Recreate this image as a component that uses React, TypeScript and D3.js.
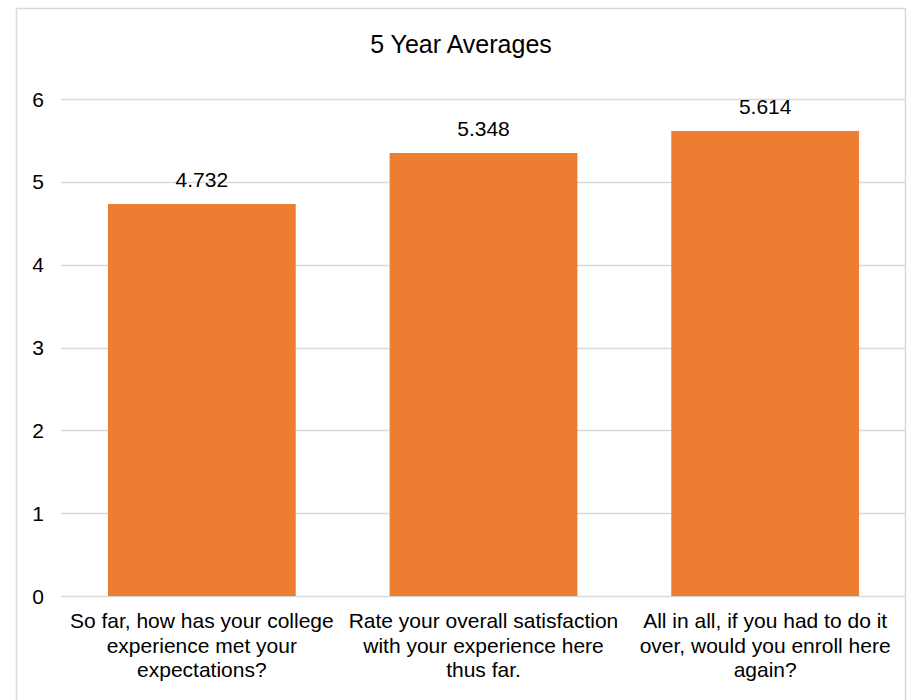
import React from "react";
import * as d3 from "d3";

// Survey question averages over five years
const categories = [
  "So far, how has your college experience met your expectations?",
  "Rate your overall satisfaction with your experience here thus far.",
  "All in all, if you had to do it over, would you enroll here again?",
];
const categoryLines = [
  ["So far, how has your college", "experience met your", "expectations?"],
  ["Rate your overall satisfaction", "with your experience here", "thus far."],
  ["All in all, if you had to do it", "over, would you enroll here", "again?"],
];
const values = [4.732, 5.348, 5.614];
const yTicks = [0, 1, 2, 3, 4, 5, 6];
const title = "5 Year Averages";

const W = 907;
const H = 700;
const FONT = "'Liberation Sans', Arial, sans-serif";
const BAR = "#ED7D31";
const GRID = "#D9D9D9";

export default function App() {
  const x = d3
    .scaleBand<string>()
    .domain(categories)
    .range([61, 906])
    .paddingInner(1 / 3)
    .paddingOuter(1 / 6);
  const y = d3.scaleLinear().domain([0, 6]).range([596, 99]);

  return (
    <svg
      width={W}
      height={H}
      style={{ position: "absolute", left: 0, top: 0, display: "block", background: "#fff" }}
      fontFamily={FONT}
    >
      <rect x={16.5} y={8.5} width={889} height={720} fill="#fff" stroke={GRID} strokeWidth={1.5} />
      <text x={461} y={53} textAnchor="middle" fontSize={25} fill="#000">
        {title}
      </text>
      {yTicks.map((t) => (
        <g key={t}>
          <line x1={61} x2={905} y1={Math.round(y(t)) + 0.5} y2={Math.round(y(t)) + 0.5} stroke={GRID} strokeWidth={1.5} />
          <text x={44} y={y(t) + 7.5} textAnchor="end" fontSize={21} fill="#000">
            {t}
          </text>
        </g>
      ))}
      {categories.map((c, i) => (
        <g key={c}>
          <rect
            x={x(c)!}
            y={y(values[i])}
            width={x.bandwidth()}
            height={y(0) - y(values[i])}
            fill={BAR}
          />
          <text
            x={x(c)! + x.bandwidth() / 2}
            y={y(values[i]) - 17}
            textAnchor="middle"
            fontSize={21}
            fill="#000"
          >
            {values[i].toFixed(3)}
          </text>
          <text textAnchor="middle" fontSize={21} fill="#000">
            {categoryLines[i].map((ln, j) => (
              <tspan key={j} x={x(c)! + x.bandwidth() / 2} y={628 + j * 24.5}>
                {ln}
              </tspan>
            ))}
          </text>
        </g>
      ))}
    </svg>
  );
}
